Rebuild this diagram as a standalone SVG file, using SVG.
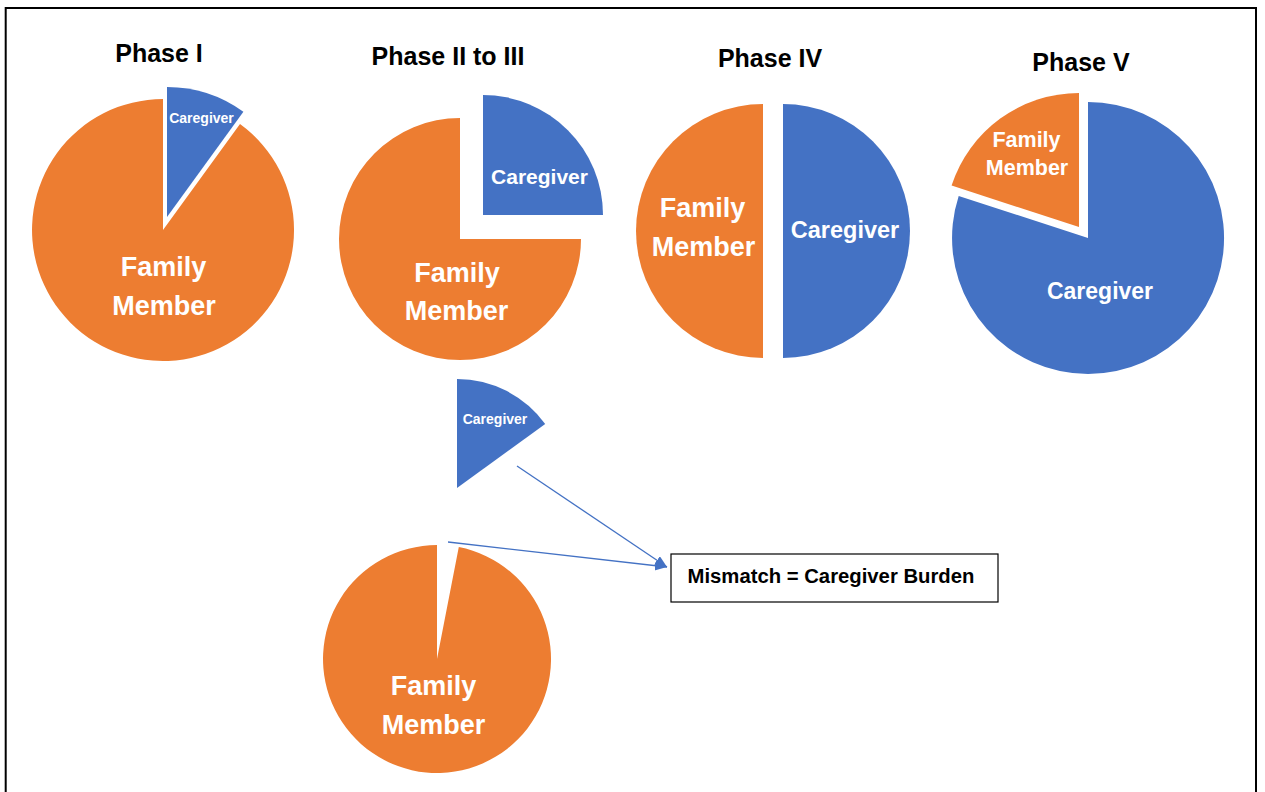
<svg xmlns="http://www.w3.org/2000/svg" width="1265" height="792" viewBox="0 0 1265 792">
<style>
.o{fill:#ED7D31}
.b{fill:#4472C4}
.t{font-family:"Liberation Sans",Arial,sans-serif;font-weight:bold;text-anchor:middle}
.title{font-size:25px;fill:#000}
.w{fill:#fff}
.conn{stroke:#4472C4;stroke-width:1.3;fill:none;marker-end:url(#ah)}
</style>
<defs>
<marker id="ah" markerUnits="userSpaceOnUse" markerWidth="13" markerHeight="11" refX="12" refY="5" orient="auto">
<path d="M0,0 L12,5 L0,10 Z" fill="#4472C4"/>
</marker>
</defs>
<rect width="1265" height="792" fill="#fff"/>
<path d="M5.7,792 L5.7,8 L1256,8 L1256,792" fill="none" stroke="#000" stroke-width="2"/>

<g id="phase1">
<text class="t title" x="159" y="62">Phase I</text>
<path class="o" d="M163,230 L240,124 A131,131 0 1 1 163,99 Z"/>
<path class="b" d="M167,217 L167,87 A130,130 0 0 1 243.4,111.8 Z"/>
<text class="t w" x="201.5" y="123" font-size="14">Caregiver</text>
<text class="t w" x="163.5" y="276" font-size="27">Family</text>
<text class="t w" x="164" y="315" font-size="27">Member</text>
</g>

<g id="phase2">
<text class="t title" x="448" y="65">Phase II to III</text>
<path class="o" d="M460,239 L581,239 A121,121 0 1 1 460,118 Z"/>
<path class="b" d="M483,215 L483,95 A120,120 0 0 1 603,215 Z"/>
<text class="t w" x="539.5" y="184" font-size="21">Caregiver</text>
<text class="t w" x="457" y="282" font-size="27">Family</text>
<text class="t w" x="456.5" y="320" font-size="27">Member</text>
</g>

<g id="phase4">
<text class="t title" x="770" y="67">Phase IV</text>
<path class="o" d="M763,104 L763,358 A127,127 0 0 1 763,104 Z"/>
<path class="b" d="M783,104 A127,127 0 0 1 783,358 Z"/>
<text class="t w" x="702.5" y="217" font-size="27">Family</text>
<text class="t w" x="703.5" y="256" font-size="27">Member</text>
<text class="t w" x="845" y="238" font-size="23.5">Caregiver</text>
</g>

<g id="phase5">
<text class="t title" x="1081" y="71">Phase V</text>
<path class="b" d="M1088,238 L1088,102 A136,136 0 1 1 958.7,196 Z"/>
<path class="o" d="M1079,227 L951.6,185.6 A134,134 0 0 1 1079,93 Z"/>
<text class="t w" x="1026.5" y="147" font-size="21.5">Family</text>
<text class="t w" x="1027" y="175" font-size="21.5">Member</text>
<text class="t w" x="1100" y="299" font-size="23">Caregiver</text>
</g>

<g id="mismatch-caregiver">
<path class="b" d="M457,488 L457,379 A109,109 0 0 1 545.2,423.9 Z"/>
<text class="t w" x="495" y="424" font-size="14">Caregiver</text>
</g>

<g id="mismatch-family">
<path class="o" d="M437,659 L458.8,547.1 A114,114 0 1 1 437,545 Z"/>
<text class="t w" x="433.5" y="695" font-size="27">Family</text>
<text class="t w" x="433.5" y="734" font-size="27">Member</text>
</g>

<g id="burden-box">
<rect x="671" y="554" width="327" height="48" fill="#fff" stroke="#000" stroke-width="1.2"/>
<text class="t" x="831" y="583" font-size="20.3" fill="#000">Mismatch = Caregiver Burden</text>
</g>

<g id="connectors">
<line class="conn" x1="517" y1="466" x2="667" y2="567"/>
<line class="conn" x1="448" y1="542" x2="667" y2="567"/>
</g>
</svg>
